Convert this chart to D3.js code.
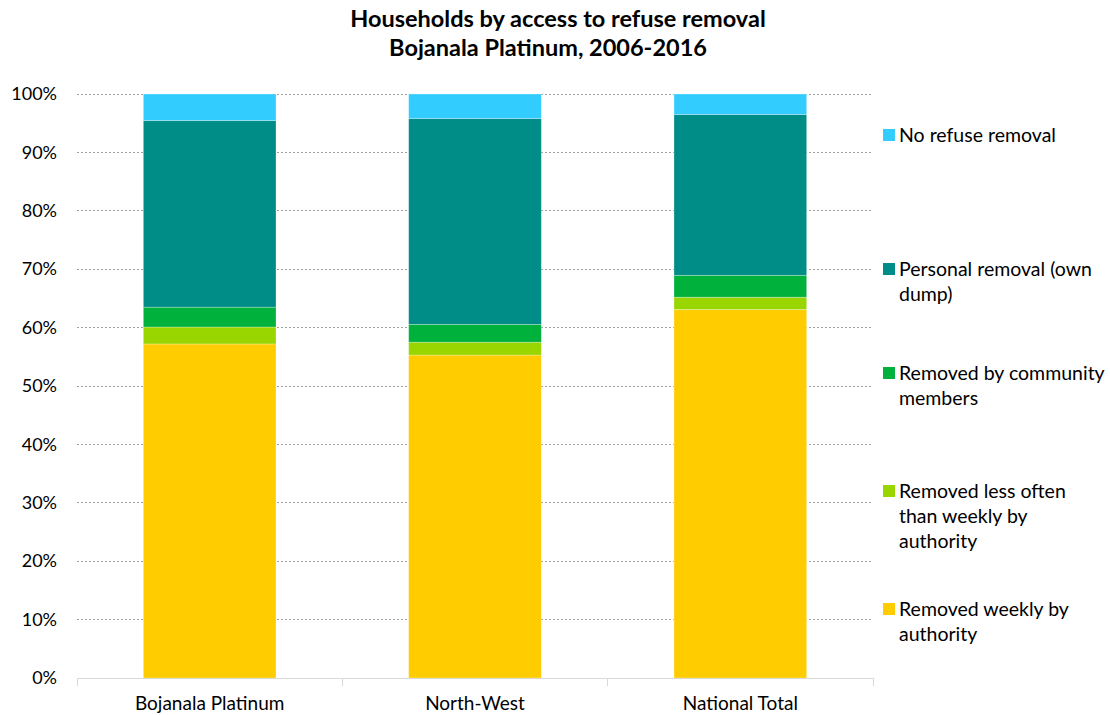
<!DOCTYPE html>
<html>
<head>
<meta charset="utf-8">
<script src="https://cdn.jsdelivr.net/npm/d3@7/dist/d3.min.js"></script>
<style>
  html, body { margin: 0; padding: 0; background: #fff; }
  svg { display: block; font-family: Lato, "Open Sans", sans-serif; }
</style>
</head>
<body>
<svg id="chart" width="1110" height="715"></svg>
<script>
// Regions on the x axis
const categories = ["Bojanala Platinum", "North-West", "National Total"];

// Share of households (%) per refuse removal type, bottom to top of each stack
const seriesNames = [
  "Removed weekly by authority",
  "Removed less often than weekly by authority",
  "Removed by community members",
  "Personal removal (own dump)",
  "No refuse removal"
];
const weekly     = [57.2, 55.3, 63.1];
const lessOften  = [2.9, 2.2, 2.1];
const community  = [3.4, 3.05, 3.75];
const personal   = [31.95, 35.25, 27.55];
const noRemoval  = [4.55, 4.2, 3.5];
const seriesValues = [weekly, lessOften, community, personal, noRemoval];
const colors = ["#FFCC00", "#99D600", "#00B13C", "#008C87", "#33CCFF"];

// Legend text, wrapped as in the legend box (top to bottom)
const legendLines = [
  ["No refuse removal"],
  ["Personal removal (own", "dump)"],
  ["Removed by community", "members"],
  ["Removed less often", "than weekly by", "authority"],
  ["Removed weekly by", "authority"]
];
const yTicks = [0, 10, 20, 30, 40, 50, 60, 70, 80, 90, 100];

const svg = d3.select("#chart");
const margin = { left: 77, right: 237, top: 94, bottom: 37 };
const W = 1110, H = 715;
const plotW = W - margin.left - margin.right;
const plotH = H - margin.top - margin.bottom;

const x = d3.scaleBand().domain(categories).range([0, plotW]).paddingInner(0.5).paddingOuter(0.25);
const y = d3.scaleLinear().domain([0, 100]).range([plotH, 0]);

const g = svg.append("g").attr("transform", `translate(${margin.left},${margin.top})`);

// Title
svg.append("text").attr("x", 558).attr("y", 27).attr("text-anchor", "middle")
  .attr("font-size", 23.5).attr("font-weight", "bold").attr("fill", "#000")
  .text("Households by access to refuse removal");
svg.append("text").attr("x", 548).attr("y", 56).attr("text-anchor", "middle")
  .attr("font-size", 23.5).attr("font-weight", "bold").attr("fill", "#000")
  .text("Bojanala Platinum, 2006-2016");

// Gridlines
g.append("g").selectAll("line").data(yTicks.filter(d => d > 0)).join("line")
  .attr("x1", 0).attr("x2", plotW)
  .attr("y1", d => y(d)).attr("y2", d => y(d))
  .attr("stroke", "#a0a0a0").attr("stroke-width", 1).attr("stroke-dasharray", "2,2")
  .attr("shape-rendering", "crispEdges");

// Y axis labels
const yAxis = d3.axisLeft(y).tickValues(yTicks).tickFormat(d => d + "%").tickSize(0).tickPadding(20);
const ya = g.append("g").call(yAxis);
ya.select(".domain").remove();
ya.selectAll("text").attr("font-size", 18).attr("fill", "#000").attr("font-family", "Lato, 'Open Sans', sans-serif");

// Stacked data
const rows = categories.map((c, i) => {
  const r = { category: c };
  seriesNames.forEach((s, j) => { r[s] = seriesValues[j][i]; });
  return r;
});
const stacked = d3.stack().keys(seriesNames)(rows);

g.append("g").selectAll("g").data(stacked).join("g")
  .attr("fill", (d, i) => colors[i])
  .selectAll("rect").data(d => d).join("rect")
  .attr("x", d => x(d.data.category))
  .attr("width", x.bandwidth())
  .attr("y", d => y(d[1]))
  .attr("height", d => y(d[0]) - y(d[1]))
  .attr("stroke", "rgba(255,255,255,0.35)").attr("stroke-width", 0.8);

// X axis: line with tick marks at category boundaries
const step = plotW / categories.length;
const xa = g.append("g").attr("transform", `translate(0,${plotH})`);
xa.append("line").attr("x1", 0).attr("x2", plotW).attr("y1", 0).attr("y2", 0)
  .attr("stroke", "#d9d9d9").attr("shape-rendering", "crispEdges");
xa.selectAll("line.tick").data(d3.range(categories.length + 1)).join("line")
  .attr("class", "tick")
  .attr("x1", d => d * step).attr("x2", d => d * step).attr("y1", 0).attr("y2", 8)
  .attr("stroke", "#d9d9d9").attr("shape-rendering", "crispEdges");
xa.selectAll("text").data(categories).join("text")
  .attr("x", d => x(d) + x.bandwidth() / 2).attr("y", 32)
  .attr("text-anchor", "middle").attr("font-size", 19).attr("fill", "#000")
  .text(d => d);

// Legend
const legendTop = [135, 269, 373, 491, 609];
const leg = svg.append("g");
legendLines.forEach((lines, i) => {
  const colorIdx = seriesNames.length - 1 - i;
  leg.append("rect").attr("x", 883).attr("y", legendTop[i] - 6).attr("width", 12).attr("height", 12)
    .attr("fill", colors[colorIdx]);
  lines.forEach((t, k) => {
    leg.append("text").attr("x", 899).attr("y", legendTop[i] + 7 + k * 25)
      .attr("font-size", 19.5).attr("fill", "#000").text(t);
  });
});
</script>
</body>
</html>
